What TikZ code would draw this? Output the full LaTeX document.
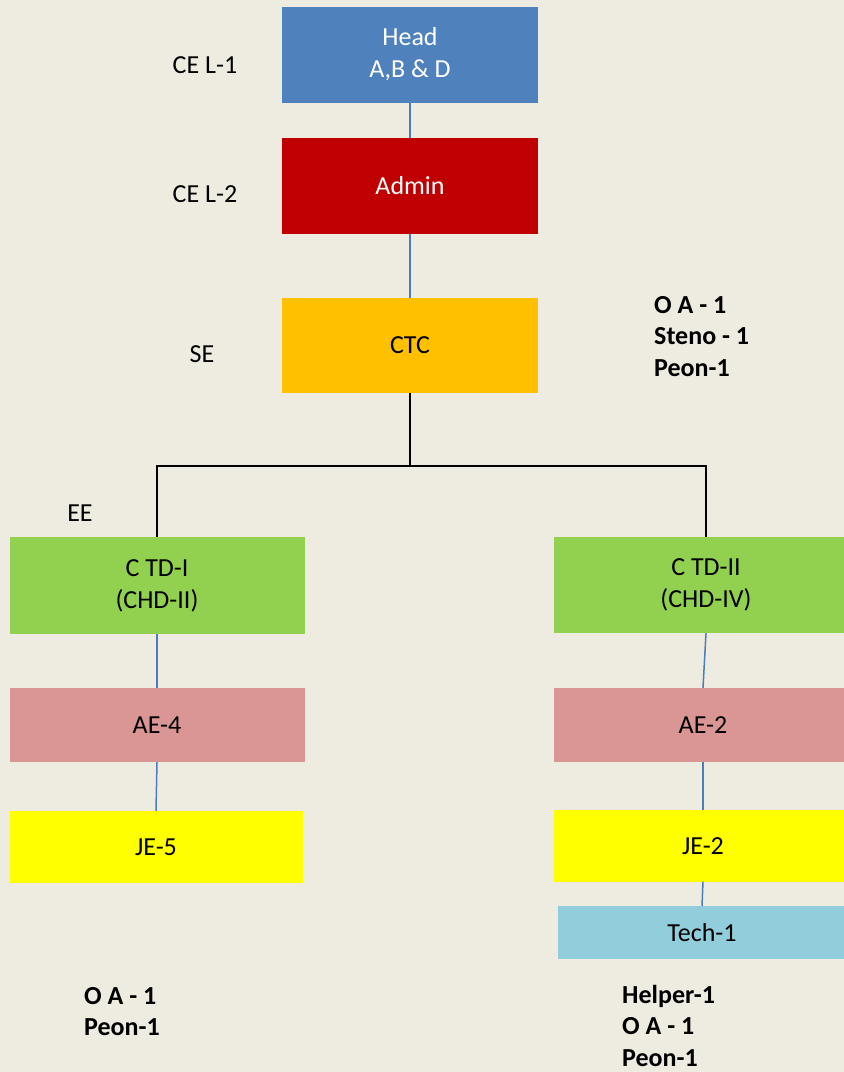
\documentclass[tikz,border=0pt]{standalone}
\usepackage{fontspec}
\setmainfont{Carlito}
\definecolor{bgc}{HTML}{EEECE1}
\definecolor{headc}{HTML}{4F81BD}
\definecolor{adminc}{HTML}{C00000}
\definecolor{ctcc}{HTML}{FFC000}
\definecolor{greenc}{HTML}{92D050}
\definecolor{aec}{HTML}{D99694}
\definecolor{jec}{HTML}{FFFF00}
\definecolor{techc}{HTML}{92CDDC}
\definecolor{linkc}{HTML}{4A7EBB}
\begin{document}
\begin{tikzpicture}[x=1pt,y=-1pt,
  box/.style={draw=none, inner sep=0pt, align=center, font=\fontsize{26}{32}\selectfont},
  lbl/.style={inner sep=0pt, anchor=base, font=\fontsize{26}{31}\selectfont},
  note/.style={inner sep=0pt, align=left, anchor=north west, font=\fontsize{26}{31.5}\selectfont\bfseries},
  link/.style={draw=linkc, line width=1.5pt},
  tree/.style={draw=black, line width=2pt}]
\fill[bgc] (0,0) rectangle (844,1072);
\useasboundingbox (0,0) rectangle (844,1072);

% boxes
\node[box, fill=headc, text=white, minimum width=256pt, minimum height=96pt] (head) at (410,54.5) {Head\\A,B \& D};
\node[box, fill=adminc, text=white, minimum width=256pt, minimum height=96pt] (admin) at (410,186) {Admin};
\node[box, fill=ctcc, minimum width=256pt, minimum height=95pt] (ctc) at (410,345.5) {CTC};
\node[box, fill=greenc, minimum width=295pt, minimum height=97pt] (ctd1) at (157,585.5) {C TD-I\\(CHD-II)};
\node[box, fill=aec, minimum width=295pt, minimum height=74pt] (ae4) at (157,725) {AE-4};
\node[box, fill=jec, minimum width=293pt, minimum height=72pt] (je5) at (156,847) {JE-5};
\node[box, fill=greenc, minimum width=304pt, minimum height=96pt] (ctd2) at (706,585) {C TD-II\\(CHD-IV)};
\node[box, fill=aec, minimum width=298pt, minimum height=73.5pt] (ae2) at (703,724.75) {AE-2};
\node[box, fill=jec, minimum width=298pt, minimum height=71.5pt] (je2) at (703,845.75) {JE-2};
\node[box, fill=techc, minimum width=288pt, minimum height=53pt] (tech) at (702,932.5) {Tech-1};

% level labels
\node[lbl] (l1) at (205,73) {CE L-1};
\node[lbl] (l2) at (205,202) {CE L-2};
\node[lbl] (l3) at (202,362) {SE};
\node[lbl] (l4) at (80,521) {EE};

% notes
\node[note] (n1) at (654,296) {O A - 1\\Steno - 1\\Peon-1};
\node[note] (n2) at (84,987) {O A - 1\\Peon-1};
\node[note] (n3) at (622,985) {Helper-1\\O A - 1\\Peon-1};

% connectors
\draw[link] (head.south) -- (admin.north);
\draw[link] (admin.south) -- (ctc.north);
\draw[link] (ctd1.south) -- (ae4.north);
\draw[link] (ae4.south) -- (je5.north);
\draw[link] (ctd2.south) -- (ae2.north);
\draw[link] (ae2.south) -- (je2.north);
\draw[link] (je2.south) -- (tech.north);

\coordinate (split) at (410,466);
\draw[tree] (ctc.south) -- (split);
\draw[tree] (ctd1.north) |- (split) -| (ctd2.north);
\end{tikzpicture}
\end{document}
